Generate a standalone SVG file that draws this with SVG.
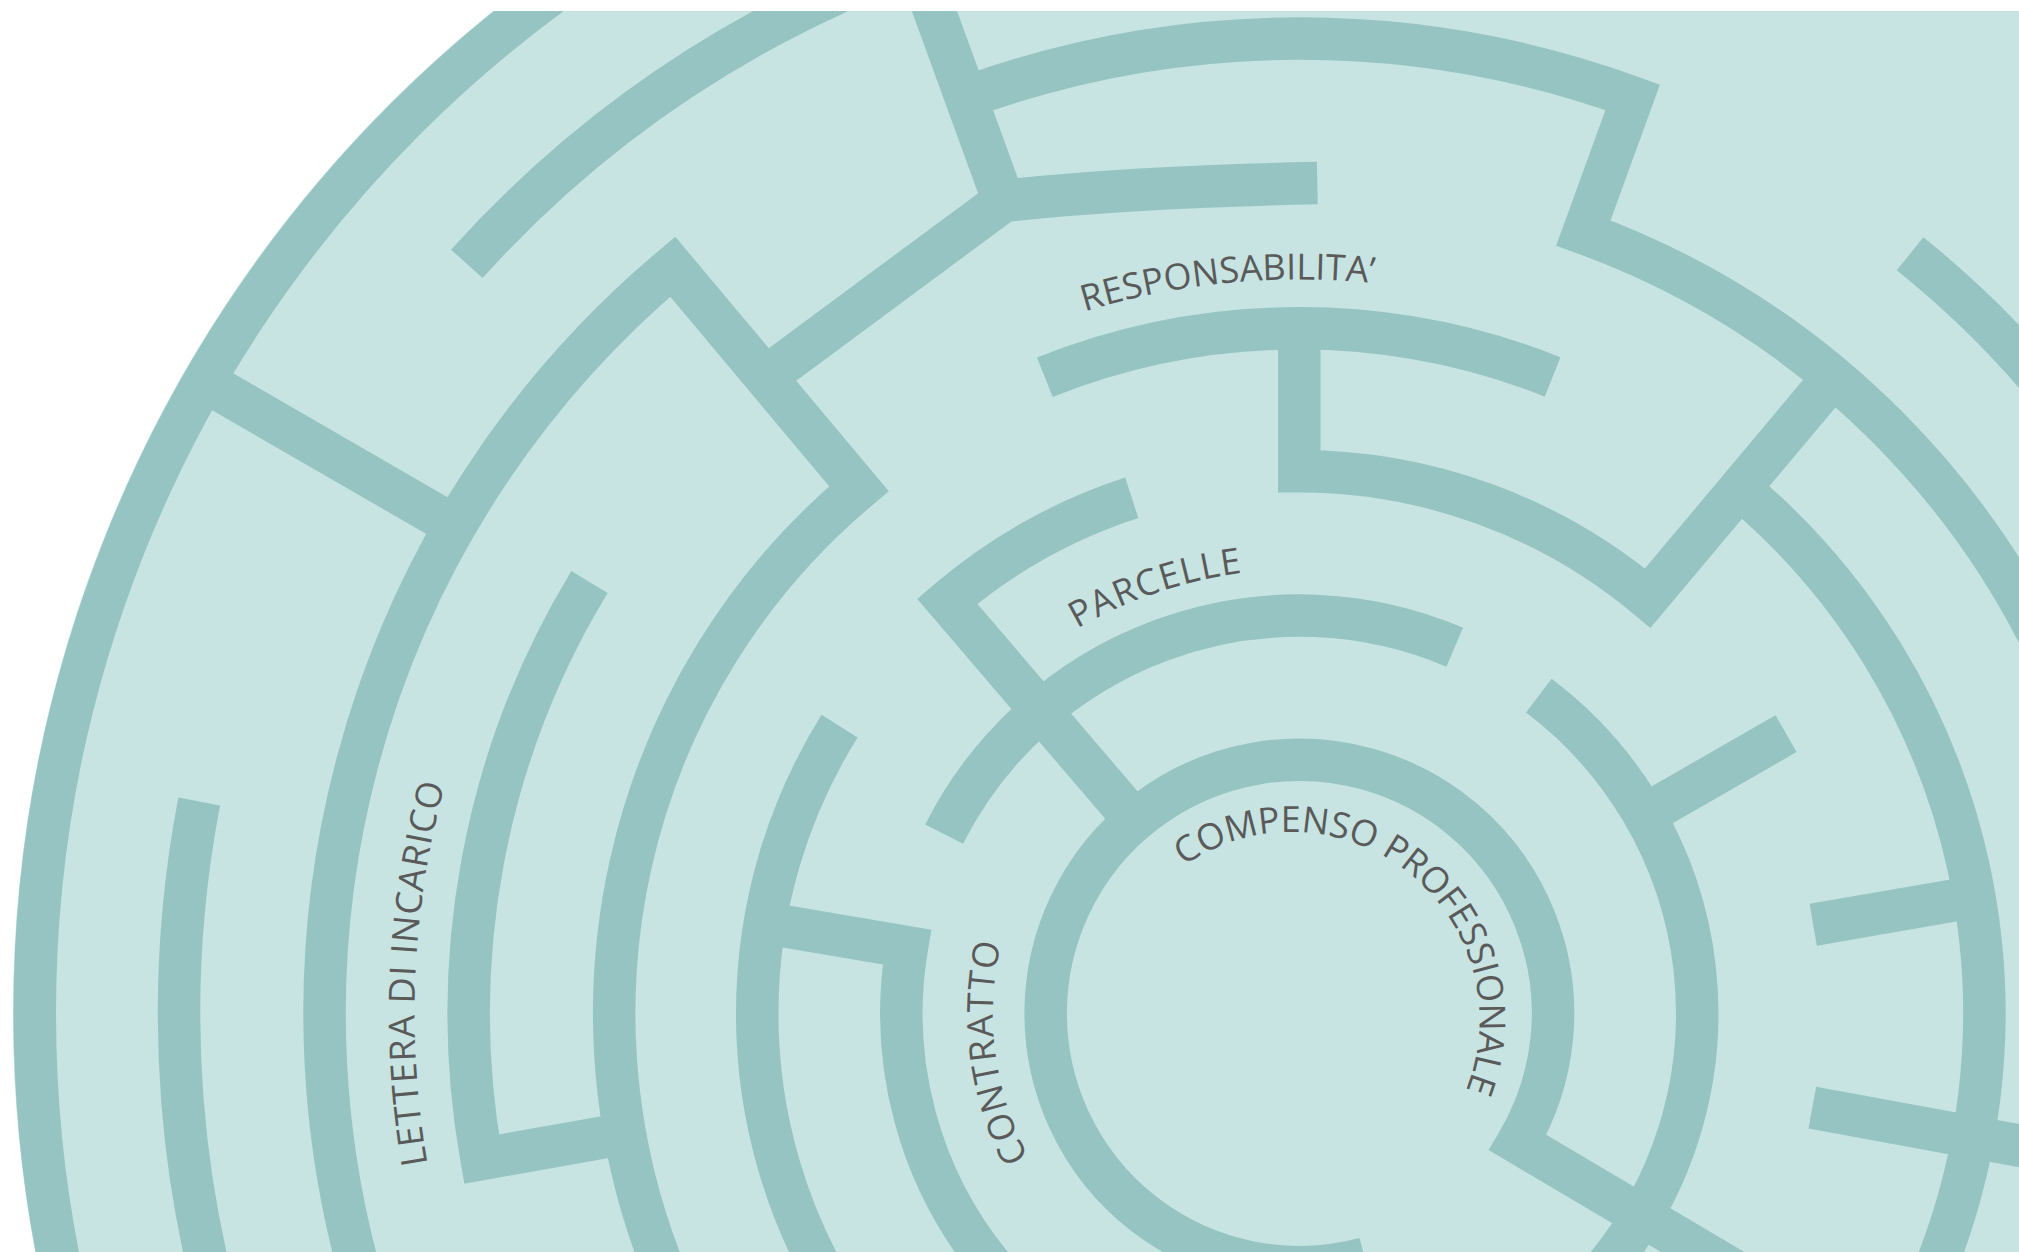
<svg xmlns="http://www.w3.org/2000/svg" width="2019" height="1252" viewBox="0 0 2019 1252">
<style>
.wall{fill:none;stroke:#96C4C2;stroke-width:33;stroke-linecap:butt;stroke-linejoin:miter;stroke-miterlimit:10}
.lbl{font-family:"Open Sans","Liberation Sans",sans-serif;font-size:28px;fill:#5A5A5A}
</style>
<defs>
<clipPath id="frame"><rect x="0" y="8.5" width="1570" height="975"/></clipPath>
<path id="pResp" d="M842.3,241.9 A570,570 0 0 1 1203.9,251.4"/>
<path id="pParc" d="M836.5,488.2 A345,345 0 0 1 1127,462.8"/>
<path id="pLett" d="M332,903.9 A687,687 0 0 1 363.4,552"/>
<path id="pCont" d="M798.9,898.7 A238,238 0 0 1 785.4,705.6"/>
<path id="pComp" d="M919.3,672.4 A146,146 0 0 1 1135.3,853.7"/>
</defs>
<rect width="2019" height="1252" fill="#FFFFFF"/>
<g transform="scale(1.2877)">
<g clip-path="url(#frame)">
<circle id="disk" cx="1009" cy="787" r="999" fill="#C7E4E2"/>
<g id="walls">
<circle class="wall" cx="1009" cy="787" r="982"/>
<path class="wall" d="M151.7,292 L353.4,408.5"/>
<path class="wall" d="M154.7,622.5 A870,870 0 0 0 191.5,1084.5"/>
<path class="wall" d="M362.5,204.9 A870,870 0 0 1 887.9,-74.6"/>
<path class="wall" d="M297.7,1045.9 A757,757 0 0 1 522.4,207.1 L667,379.5 A532,532 0 0 0 526.8,1011.8"/>
<path class="wall" d="M594.4,292.9 L779.3,156 Q880,145 1023,142.2"/>
<path class="wall" d="M779.3,156 L690.9,-86.9"/>
<path class="wall" d="M750.1,75.6 A757,757 0 0 1 1267.9,75.6 L1229.6,180.9 A645,645 0 0 1 1615.1,566.4"/>
<path class="wall" d="M1483.3,197.1 A757,757 0 0 1 1720.4,528.1"/>
<path class="wall" d="M457.8,451.9 A645,645 0 0 0 374,900.1 L485.2,880.3"/>
<path class="wall" d="M652,563.9 A421,421 0 0 0 652,1010.1"/>
<path class="wall" d="M593.9,716.8 L704.3,735.5 A309,309 0 0 0 772.3,985.6"/>
<path class="wall" d="M878.9,386.6 A421,421 0 0 0 735.6,466.9 L881.1,637.2"/>
<path class="wall" d="M733.2,647.7 A309,309 0 0 1 1129.7,502.6"/>
<path class="wall" d="M1060,977.3 A197,197 0 1 1 1178.6,887.3 L1387.7,1011"/>
<path class="wall" d="M1195,540.2 A309,309 0 0 1 1245.7,985.6"/>
<path class="wall" d="M1276.9,633 L1387,569.7"/>
<path class="wall" d="M811.4,293 A532,532 0 0 1 1205.7,292.7"/>
<path class="wall" d="M1009,255 L1009,366 A421,421 0 0 1 1279.6,464.5 L1423.6,292.9"/>
<path class="wall" d="M1351,379.5 A532,532 0 0 1 1491.2,1011.8"/>
<path class="wall" d="M1533.2,696.5 L1408.1,718.1"/>
<path class="wall" d="M1407.4,860.1 L1697.5,913.4"/>
</g>
<g id="labels">
<text class="lbl"><textPath href="#pResp" textLength="227" lengthAdjust="spacing">RESPONSABILITA’</textPath></text>
<text class="lbl"><textPath href="#pParc" textLength="136" lengthAdjust="spacing">PARCELLE</textPath></text>
<text class="lbl"><textPath href="#pLett" textLength="297" lengthAdjust="spacing">LETTERA DI INCARICO</textPath></text>
<text class="lbl"><textPath href="#pCont" textLength="171" lengthAdjust="spacing">CONTRATTO</textPath></text>
<text class="lbl"><textPath href="#pComp" textLength="374" lengthAdjust="spacing">COMPENSO PROFESSIONALE</textPath></text>
</g>
</g>
</g>
</svg>
